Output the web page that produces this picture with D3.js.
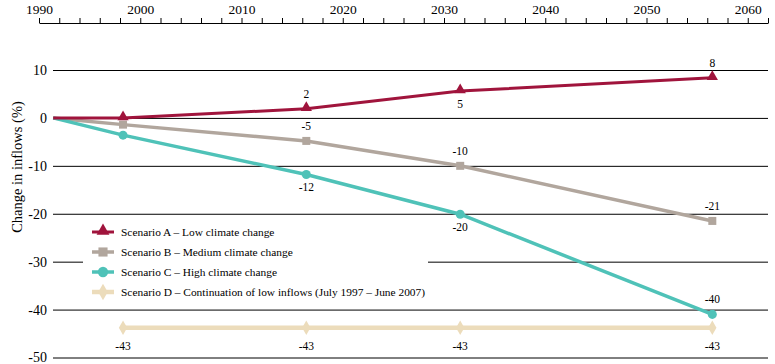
<!DOCTYPE html>
<html><head><meta charset="utf-8">
<script src="https://cdn.jsdelivr.net/npm/d3@7"></script>
</head>
<body style="margin:0;background:#fff">
<svg id="c" width="775" height="364"></svg>
<script>
// ---- data ----
const years = [1991.4, 1998.3, 2016.4, 2031.6, 2056.5];
const seriesNames = [
  "Scenario A \u2013 Low climate change",
  "Scenario B \u2013 Medium climate change",
  "Scenario C \u2013 High climate change",
  "Scenario D \u2013 Continuation of low inflows (July 1997 \u2013 June 2007)"
];
const valuesA = [0, 0, 1.9, 5.6, 8.4];
const valuesB = [0, -1.4, -4.8, -10, -21.5];
const valuesC = [0, -3.6, -11.8, -20.1, -41];
const valuesD = [null, -43.8, -43.8, -43.8, -43.8];
const labelsA = [null, null, "2", "5", "8"];
const labelsB = [null, null, "-5", "-10", "-21"];
const labelsC = [null, null, "-12", "-20", "-40"];
const labelsD = [null, "-43", "-43", "-43", "-43"];
const xTicks = d3.range(1990, 2063, 2);
const yTicks = [10, 0, -10, -20, -30, -40, -50];

// ---- styling ----
const FONT = "'Liberation Serif'";
const colors = ["#a0143c", "#b1a69d", "#4fc2b8", "#ecdcbb"];
const widths = [3, 3.5, 3.5, 4.5];
const symbols = [d3.symbolTriangle, d3.symbolSquare, d3.symbolCircle, d3.symbolDiamond];
const symSizes = [55, 64, 64, 60];
const placeA = [0, 0, -1, 1, -1];   // -1 above, 1 below
const placeB = [0, 0, -1, -1, -1];
const placeC = [0, 0, 1, 1, -1];
const placeD = [0, 1, 1, 1, 1];

const svg = d3.select("#c");
const x = d3.scaleLinear().domain([1990, 2062]).range([39, 768]);
const y = d3.scaleLinear().domain([-50, 10]).range([357.5, 70]);

// top axis
const ax = svg.append("g").attr("transform", "translate(0,23)")
  .call(d3.axisTop(x).tickValues(xTicks).tickSize(5).tickSizeOuter(0).tickPadding(4)
    .tickFormat(d => d % 10 === 0 ? String(d) : ""));
ax.select(".domain").attr("stroke", "#000").attr("stroke-width", 1.2);
ax.selectAll(".tick line").attr("stroke", "#000");
ax.selectAll("text").style("font-family", FONT).style("font-size", "13.5px").attr("fill", "#000");

// y grid + labels
const gy = svg.append("g").attr("transform", "translate(53,0)")
  .call(d3.axisLeft(y).tickValues(yTicks).tickSize(-(768 - 53)).tickPadding(6)
    .tickFormat(d => String(d)));
gy.select(".domain").remove();
gy.selectAll(".tick line").attr("stroke", "#000").attr("stroke-width", 1);
gy.selectAll("text").style("font-family", FONT).style("font-size", "14px").attr("fill", "#000");

// y title
svg.append("text").attr("transform", "translate(22,167) rotate(-90)")
  .attr("text-anchor", "middle").style("font-family", FONT).style("font-size", "14.5px")
  .text("Change in inflows (%)");

// legend background
svg.append("rect").attr("x", 83).attr("y", 220).attr("width", 345).attr("height", 82).attr("fill", "#fff");

const allVals = [valuesA, valuesB, valuesC, valuesD];
const allLabels = [labelsA, labelsB, labelsC, labelsD];
const allPlace = [placeA, placeB, placeC, placeD];

const line = d3.line().defined(d => d.v !== null).x(d => x(d.yr)).y(d => y(d.v));

const order = [3, 1, 2, 0];
order.forEach(i => {
  const pts = years.map((yr, j) => ({yr, v: allVals[i][j]}));
  svg.append("path").datum(pts).attr("d", line)
    .attr("fill", "none").attr("stroke", colors[i]).attr("stroke-width", widths[i]);
  svg.append("g").selectAll("path").data(pts.filter((d, j) => d.v !== null && j > 0))
    .join("path")
    .attr("d", d3.symbol().type(symbols[i]).size(symSizes[i]))
    .attr("transform", d => `translate(${x(d.yr)},${y(d.v) + (i === 0 ? -1 : 0)})`)
    .attr("fill", colors[i]);
});

// data labels
allLabels.forEach((labs, i) => {
  labs.forEach((t, j) => {
    if (t === null) return;
    const p = allPlace[i][j];
    const cy = y(allVals[i][j]);
    const off = p < 0 ? -11 : (i === 3 ? 22 : 17);
    svg.append("text").attr("x", x(years[j])).attr("y", cy + off)
      .attr("text-anchor", "middle").style("font-family", FONT).style("font-size", "11.5px")
      .attr("fill", "#000").text(t);
  });
});

// legend
seriesNames.forEach((name, i) => {
  const ly = 232 + i * 20;
  const g = svg.append("g");
  g.append("line").attr("x1", 92).attr("x2", 114).attr("y1", ly).attr("y2", ly)
    .attr("stroke", colors[i]).attr("stroke-width", widths[i]);
  g.append("path").attr("d", d3.symbol().type(symbols[i]).size(symSizes[i] * 1.3)())
    .attr("transform", `translate(103,${ly + (i === 0 ? -1 : 0)})`).attr("fill", colors[i]);
  g.append("text").attr("x", 121).attr("y", ly + 4).style("font-family", FONT)
    .style("font-size", "11.4px").attr("fill", "#000").text(name);
});
</script></body></html>
